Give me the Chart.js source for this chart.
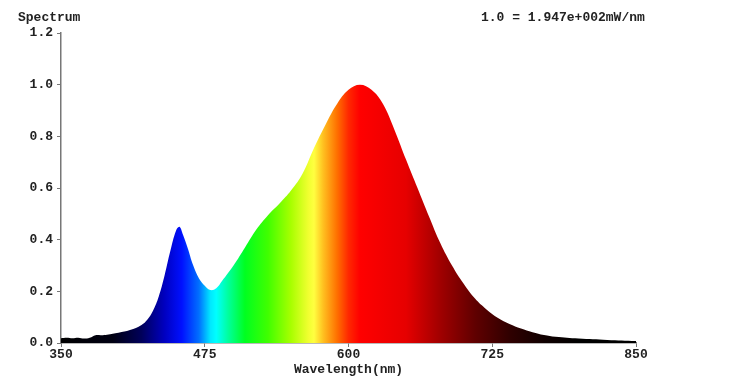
<!DOCTYPE html>
<html>
<head>
<meta charset="utf-8">
<script src="https://cdn.jsdelivr.net/npm/chart.js@4"></script>
<style>
  html, body { margin: 0; padding: 0; background: #fff; }
  #wrap { width: 748px; height: 382px; }
</style>
</head>
<body>
<div id="wrap"><canvas id="spectrumChart" width="748" height="382"></canvas></div>
<script>
// wavelength (nm) and relative power
const wavelengths = [350, 355, 360, 365, 370, 375, 380, 385, 390, 400, 410, 420, 425, 430, 435, 440, 445, 450, 453, 456,
    460, 465, 470, 475, 480, 485, 490, 500, 510, 520, 530, 540, 550, 560, 570, 580, 590, 600, 610,
    620, 630, 640, 650, 660, 670, 680, 690, 700, 710, 720, 730, 740, 750, 760, 770, 780, 800, 825, 850];
const power = [0.018, 0.02, 0.018, 0.02, 0.017, 0.02, 0.03, 0.03, 0.032, 0.04, 0.05, 0.07, 0.09, 0.125, 0.18, 0.26, 0.355, 0.435, 0.45, 0.42,
    0.37, 0.30, 0.25, 0.222, 0.205, 0.212, 0.24, 0.30, 0.37, 0.44, 0.495, 0.54, 0.59, 0.655, 0.755, 0.845, 0.925, 0.98, 1.0,
    0.98, 0.925, 0.825, 0.71, 0.60, 0.49, 0.385, 0.30, 0.23, 0.172, 0.13, 0.097, 0.074, 0.056, 0.042, 0.031, 0.024, 0.017, 0.012, 0.008];
const xTicks = [350, 475, 600, 725, 850];
const yTicks = [0, 0.2, 0.4, 0.6, 0.8, 1.0, 1.2];

const titleLeft = 'Spectrum';
const titleRight = '1.0 = 1.947e+002mW/nm';
const xTitle = 'Wavelength(nm)';

// colour of the fill at each wavelength
const colourStops = [
    [350, '#000000'], [395, '#000012'], [420, '#00005a'], [440, '#0000c0'], [455, '#0010ff'],
    [470, '#0070ff'], [480, '#00e8ff'], [485, '#00ffff'], [495, '#00ffa0'], [510, '#00ff20'],
    [530, '#40ff00'], [550, '#a8ff00'], [565, '#f0ff30'], [570, '#ffff40'], [578, '#ffc020'],
    [590, '#ff7000'], [600, '#ff2800'], [610, '#ff0000'], [650, '#e60000'], [680, '#a00000'],
    [710, '#600000'], [740, '#300000'], [770, '#100000'], [800, '#000000'], [850, '#000000']
];

const font = { family: '"Liberation Mono", "DejaVu Sans Mono", monospace', size: 13, weight: 'bold' };
const textColor = '#222';
const axisColor = '#777';

function spectrumFill(context) {
    const chart = context.chart;
    const { ctx, chartArea, scales } = chart;
    if (!chartArea) return '#000';
    const x0 = scales.x.getPixelForValue(350);
    const x1 = scales.x.getPixelForValue(850);
    const g = ctx.createLinearGradient(x0, 0, x1, 0);
    colourStops.forEach(s => g.addColorStop((s[0] - 350) / 500, s[1]));
    return g;
}

// top texts
const headerText = {
    id: 'headerText',
    afterDraw(chart) {
        const ctx = chart.ctx;
        ctx.save();
        ctx.font = `${font.weight} ${font.size}px ${font.family}`;
        ctx.fillStyle = textColor;
        ctx.textBaseline = 'middle';
        ctx.textAlign = 'left';
        ctx.fillText(titleLeft, 18, 18);
        ctx.fillText(titleRight, 481, 18);
        ctx.restore();
    }
};

new Chart(document.getElementById('spectrumChart'), {
    type: 'line',
    data: {
        datasets: [{
            data: wavelengths.map((w, i) => ({ x: w, y: power[i] })),
            backgroundColor: spectrumFill,
            borderWidth: 0,
            pointRadius: 0,
            fill: 'origin',
            tension: 0.4
        }]
    },
    options: {
        responsive: false,
        animation: false,
        layout: { padding: { left: 21, right: 112, top: 33, bottom: 4 } },
        plugins: { legend: { display: false }, tooltip: { enabled: false } },
        scales: {
            x: {
                type: 'linear',
                min: 350,
                max: 850,
                afterBuildTicks: s => { s.ticks = xTicks.map(v => ({ value: v })); },
                afterFit: s => { s.height = 35; },
                ticks: { font: font, color: textColor, padding: 0, maxRotation: 0 },
                grid: { drawOnChartArea: false, tickLength: 4, color: axisColor },
                border: { color: axisColor, width: 1.5 },
                title: { display: true, text: xTitle, font: font, color: textColor, padding: { top: 0, bottom: 0 } }
            },
            y: {
                min: 0,
                max: 1.2,
                afterBuildTicks: s => { s.ticks = yTicks.map(v => ({ value: v })); },
                afterFit: s => { s.width = 40; },
                ticks: { font: font, color: textColor, padding: 4, callback: v => v.toFixed(1) },
                grid: { drawOnChartArea: false, tickLength: 4, color: axisColor },
                border: { color: axisColor, width: 1.5 }
            }
        }
    },
    plugins: [headerText]
});
</script>
</body>
</html>
